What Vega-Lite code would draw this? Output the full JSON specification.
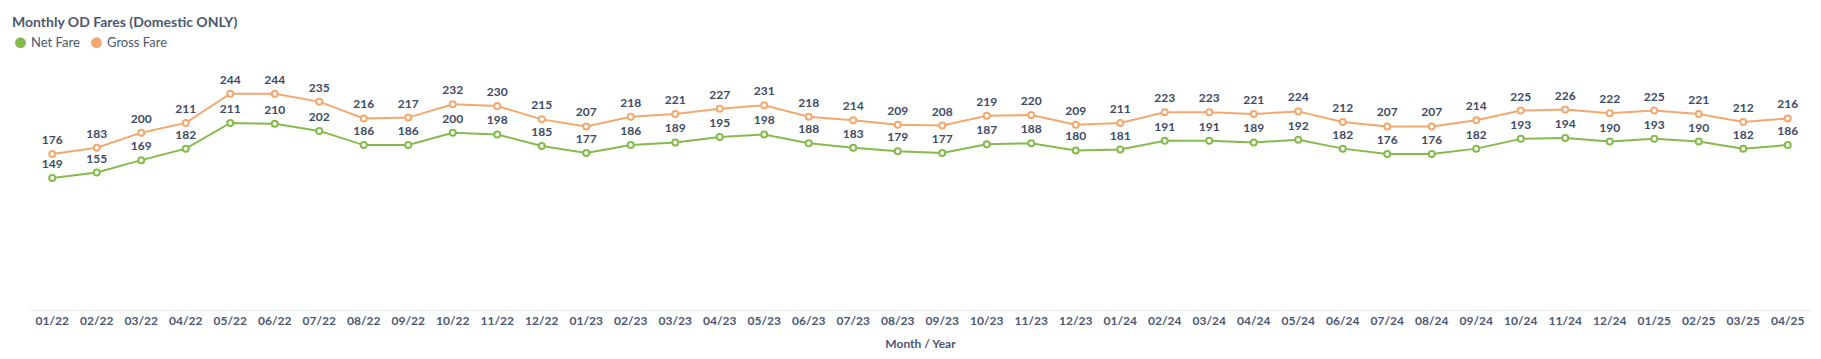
{
  "$schema": "https://vega.github.io/schema/vega-lite/v6.json",
  "width": 1780,
  "height": 266,
  "autosize": {"type": "none"},
  "padding": {"left": 30, "top": 44, "right": 11, "bottom": 49},
  "background": "white",
  "title": {
    "text": "Monthly OD Fares (Domestic ONLY)",
    "anchor": "start",
    "frame": "group",
    "font": "Lato",
    "fontSize": 14,
    "fontWeight": "bold",
    "color": "#4c5773",
    "dx": -18,
    "offset": 6
  },
  "config": {
    "view": {"stroke": null},
    "font": "Lato"
  },
  "data": {
    "values": [
      {"month": "01/22", "series": "Net Fare", "value": 149}, {"month": "02/22", "series": "Net Fare", "value": 155}, {"month": "03/22", "series": "Net Fare", "value": 169}, {"month": "04/22", "series": "Net Fare", "value": 182}, {"month": "05/22", "series": "Net Fare", "value": 211}, {"month": "06/22", "series": "Net Fare", "value": 210}, {"month": "07/22", "series": "Net Fare", "value": 202}, {"month": "08/22", "series": "Net Fare", "value": 186}, {"month": "09/22", "series": "Net Fare", "value": 186}, {"month": "10/22", "series": "Net Fare", "value": 200}, {"month": "11/22", "series": "Net Fare", "value": 198}, {"month": "12/22", "series": "Net Fare", "value": 185},
      {"month": "01/23", "series": "Net Fare", "value": 177}, {"month": "02/23", "series": "Net Fare", "value": 186}, {"month": "03/23", "series": "Net Fare", "value": 189}, {"month": "04/23", "series": "Net Fare", "value": 195}, {"month": "05/23", "series": "Net Fare", "value": 198}, {"month": "06/23", "series": "Net Fare", "value": 188}, {"month": "07/23", "series": "Net Fare", "value": 183}, {"month": "08/23", "series": "Net Fare", "value": 179}, {"month": "09/23", "series": "Net Fare", "value": 177}, {"month": "10/23", "series": "Net Fare", "value": 187}, {"month": "11/23", "series": "Net Fare", "value": 188}, {"month": "12/23", "series": "Net Fare", "value": 180},
      {"month": "01/24", "series": "Net Fare", "value": 181}, {"month": "02/24", "series": "Net Fare", "value": 191}, {"month": "03/24", "series": "Net Fare", "value": 191}, {"month": "04/24", "series": "Net Fare", "value": 189}, {"month": "05/24", "series": "Net Fare", "value": 192}, {"month": "06/24", "series": "Net Fare", "value": 182}, {"month": "07/24", "series": "Net Fare", "value": 176}, {"month": "08/24", "series": "Net Fare", "value": 176}, {"month": "09/24", "series": "Net Fare", "value": 182}, {"month": "10/24", "series": "Net Fare", "value": 193}, {"month": "11/24", "series": "Net Fare", "value": 194}, {"month": "12/24", "series": "Net Fare", "value": 190},
      {"month": "01/25", "series": "Net Fare", "value": 193}, {"month": "02/25", "series": "Net Fare", "value": 190}, {"month": "03/25", "series": "Net Fare", "value": 182}, {"month": "04/25", "series": "Net Fare", "value": 186},
      {"month": "01/22", "series": "Gross Fare", "value": 176}, {"month": "02/22", "series": "Gross Fare", "value": 183}, {"month": "03/22", "series": "Gross Fare", "value": 200}, {"month": "04/22", "series": "Gross Fare", "value": 211}, {"month": "05/22", "series": "Gross Fare", "value": 244}, {"month": "06/22", "series": "Gross Fare", "value": 244}, {"month": "07/22", "series": "Gross Fare", "value": 235}, {"month": "08/22", "series": "Gross Fare", "value": 216}, {"month": "09/22", "series": "Gross Fare", "value": 217}, {"month": "10/22", "series": "Gross Fare", "value": 232}, {"month": "11/22", "series": "Gross Fare", "value": 230}, {"month": "12/22", "series": "Gross Fare", "value": 215},
      {"month": "01/23", "series": "Gross Fare", "value": 207}, {"month": "02/23", "series": "Gross Fare", "value": 218}, {"month": "03/23", "series": "Gross Fare", "value": 221}, {"month": "04/23", "series": "Gross Fare", "value": 227}, {"month": "05/23", "series": "Gross Fare", "value": 231}, {"month": "06/23", "series": "Gross Fare", "value": 218}, {"month": "07/23", "series": "Gross Fare", "value": 214}, {"month": "08/23", "series": "Gross Fare", "value": 209}, {"month": "09/23", "series": "Gross Fare", "value": 208}, {"month": "10/23", "series": "Gross Fare", "value": 219}, {"month": "11/23", "series": "Gross Fare", "value": 220}, {"month": "12/23", "series": "Gross Fare", "value": 209},
      {"month": "01/24", "series": "Gross Fare", "value": 211}, {"month": "02/24", "series": "Gross Fare", "value": 223}, {"month": "03/24", "series": "Gross Fare", "value": 223}, {"month": "04/24", "series": "Gross Fare", "value": 221}, {"month": "05/24", "series": "Gross Fare", "value": 224}, {"month": "06/24", "series": "Gross Fare", "value": 212}, {"month": "07/24", "series": "Gross Fare", "value": 207}, {"month": "08/24", "series": "Gross Fare", "value": 207}, {"month": "09/24", "series": "Gross Fare", "value": 214}, {"month": "10/24", "series": "Gross Fare", "value": 225}, {"month": "11/24", "series": "Gross Fare", "value": 226}, {"month": "12/24", "series": "Gross Fare", "value": 222},
      {"month": "01/25", "series": "Gross Fare", "value": 225}, {"month": "02/25", "series": "Gross Fare", "value": 221}, {"month": "03/25", "series": "Gross Fare", "value": 212}, {"month": "04/25", "series": "Gross Fare", "value": 216}
    ]
  },
  "encoding": {
    "x": {
      "field": "month",
      "type": "ordinal",
      "sort": null,
      "scale": {"type": "band", "paddingInner": 0, "paddingOuter": 0},
      "axis": {
        "title": "Month / Year",
        "labelAngle": 0,
        "labelFont": "Lato",
        "labelFontSize": 12,
        "labelFontWeight": "bold",
        "labelColor": "#4c5773",
        "labelPadding": 5,
        "ticks": false,
        "grid": false,
        "domainColor": "#e6e8ec",
        "domainWidth": 1,
        "titleFont": "Lato",
        "titleFontSize": 12,
        "titleFontWeight": "bold",
        "titleColor": "#4c5773",
        "titlePadding": 12
      }
    },
    "y": {
      "field": "value",
      "type": "quantitative",
      "scale": {"domain": [0, 300], "nice": false},
      "axis": null
    },
    "color": {
      "field": "series",
      "type": "nominal",
      "scale": {"domain": ["Net Fare", "Gross Fare"], "range": ["#84bb4c", "#f2a86f"]},
      "legend": {
        "title": null,
        "orient": "none",
        "legendX": -16,
        "legendY": -8,
        "direction": "horizontal",
        "symbolType": "circle",
        "symbolSize": 120,
        "symbolStrokeWidth": 0,
        "symbolOpacity": 1,
        "labelFont": "Lato",
        "labelFontSize": 13,
        "labelColor": "#4c5773",
        "labelOffset": 4,
        "columnPadding": 10
      }
    }
  },
  "layer": [
    {
      "mark": {"type": "line", "strokeWidth": 2, "interpolate": "linear"},
      "encoding": {"detail": {"field": "series"}}
    },
    {
      "mark": {"type": "point", "filled": true, "fill": "white", "strokeWidth": 2, "size": 36, "opacity": 1},
      "encoding": {"stroke": {"field": "series", "type": "nominal", "scale": {"domain": ["Net Fare", "Gross Fare"], "range": ["#84bb4c", "#f2a86f"]}, "legend": null}}
    },
    {
      "mark": {"type": "text", "font": "Lato", "fontSize": 12, "fontWeight": "bold", "fill": "#3e4a66", "baseline": "bottom", "dy": -7},
      "encoding": {"text": {"field": "value", "type": "quantitative"}, "color": {"value": "#3e4a66"}}
    }
  ]
}
